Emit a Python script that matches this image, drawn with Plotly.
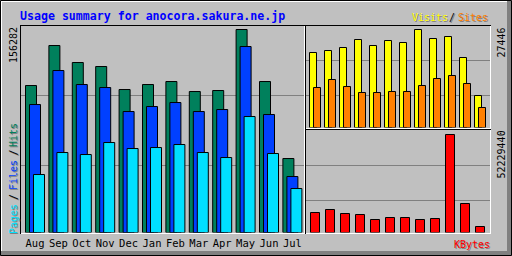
import plotly.graph_objects as go

# ---------------- data ----------------
months = ["Aug", "Sep", "Oct", "Nov", "Dec", "Jan", "Feb", "Mar", "Apr", "May", "Jun", "Jul"]
hits = [113146, 143942, 130854, 127774, 110067, 113916, 116225, 108527, 109297, 156282, 116225, 56946]
files = [98518, 124694, 113916, 111606, 93130, 96979, 100058, 93130, 94669, 143171, 90820, 43089]
pages = [44628, 61565, 60026, 69264, 64645, 65415, 67725, 61565, 57716, 89280, 60796, 33851]
visits = [21005, 21565, 22405, 24645, 22965, 24365, 23805, 27446, 24925, 25485, 19604, 8962]
sites = [11202, 13443, 11482, 9802, 9802, 10082, 10082, 11763, 13723, 14563, 12323, 5601]
kbytes = [10659000, 12258000, 10126000, 9593000, 6928000, 7994000, 7994000, 6928000, 7461000,
          52229440, 15456000, 3198000]
title_text = "Usage summary for anocora.sakura.ne.jp"
max_main_label = "156282"
max_visits_label = "27446"
max_kbytes_label = "52229440"

# ---------------- styling ----------------
W, H = 512, 256
GREY = "#C0C0C0"
DKGREY = "#808080"
C_HIT, C_FILE, C_PAGE = "#00805C", "#0040FF", "#00E0FF"
C_VISIT, C_SITE, C_KB = "#FFFF00", "#FF8000", "#FF0000"
MONO = "DejaVu Sans Mono"
SHADOW_H = "1px 1px 0px #808080"      # horizontal text shadow (down-right)
SHADOW_V = "-1px 1px 0px #808080"     # same screen offset for text rotated -90


def fx(p):
    return p / W


def fy(p):
    return 1 - p / H


# main panel geometry (pixels)
M_C0, M_STEP = 35.0, 23.4
M_X0, M_X1 = 21, 304
M_ZERO, M_TOP = 232.5, 26
M_SCALE = 203 / max(hits)              # px per unit
# right panels
R_C0, R_STEP = 315.0, 15.0
R_X0, R_X1 = 306, 490
V_ZERO, V_TOP = 127.5, 26
V_SCALE = 98 / max(visits)
K_ZERO, K_TOP = 232.5, 130
K_SCALE = 98 / max(kbytes)

idx = list(range(len(months)))
fig = go.Figure()


def bar(y, color, w_px, off_px, step, xa, ya):
    return go.Bar(x=idx, y=y, width=w_px / step, offset=off_px / step,
                  marker=dict(color=color, line=dict(color="black", width=1)),
                  opacity=1, xaxis=xa, yaxis=ya, showlegend=False, hoverinfo="skip")


fig.add_trace(bar(hits, C_HIT, 11, -9.5, M_STEP, "x", "y"))
fig.add_trace(bar(files, C_FILE, 11, -5.5, M_STEP, "x", "y"))
fig.add_trace(bar(pages, C_PAGE, 11, -1.5, M_STEP, "x", "y"))
fig.add_trace(bar(visits, C_VISIT, 7, -5.5, R_STEP, "x2", "y2"))
fig.add_trace(bar(sites, C_SITE, 7, -1.5, R_STEP, "x2", "y2"))
fig.add_trace(bar(kbytes, C_KB, 9, -4.5, R_STEP, "x3", "y3"))

hidden = dict(visible=False, fixedrange=True)

shapes = []


def rect(x0, y0, x1, y1, color, layer="above"):
    shapes.append(dict(type="rect", xref="paper", yref="paper", x0=fx(x0), x1=fx(x1),
                       y0=fy(y0), y1=fy(y1), fillcolor=color, line=dict(width=0), layer=layer))


def line(x0, y0, x1, y1, color, layer="above"):
    shapes.append(dict(type="line", xref="paper", yref="paper", x0=fx(x0), x1=fx(x1),
                       y0=fy(y0), y1=fy(y1), line=dict(color=color, width=1), layer=layer))


# outer bevel
rect(1, 251, 511, 255, DKGREY)
rect(507, 1, 511, 255, DKGREY)
line(1, 1.5, 507, 1.5, "white")
line(1.5, 1, 1.5, 251, "white")
shapes.append(dict(type="rect", xref="paper", yref="paper", x0=fx(0.5), x1=fx(511.5),
                   y0=fy(0.5), y1=fy(255.5), line=dict(color="black", width=1), layer="above"))

# grid lines
for yy in (95.5, 165.5):
    line(21, yy, 304, yy, DKGREY, "below")
for yy in (60.5, 95.5):
    line(306, yy, 490, yy, DKGREY, "below")
for yy in (165.5, 200.5):
    line(306, yy, 490, yy, DKGREY, "below")

# panel borders: main
line(20.5, 25, 20.5, 234, "black")
line(20, 25.5, 305, 25.5, "black")
line(304.5, 26, 304.5, 234, "white")
line(21, 233.5, 305, 233.5, "white")
# top-right
line(305.5, 25, 305.5, 129, "black")
line(305, 25.5, 491, 25.5, "black")
line(490.5, 26, 490.5, 129, "white")
line(306, 128.5, 491, 128.5, "white")
# bottom-right
line(305.5, 129, 305.5, 234, "black")
line(305, 129.5, 491, 129.5, "black")
line(490.5, 130, 490.5, 234, "white")
line(306, 233.5, 491, 233.5, "white")

annotations = []


def ann(text, x, y, color="black", size=10, xanchor="center", angle=0, weight="normal",
        shadow="none"):
    annotations.append(dict(text=text, x=fx(x), y=fy(y), xref="paper", yref="paper",
                            xanchor=xanchor, yanchor="middle", showarrow=False,
                            textangle=angle, borderpad=0, borderwidth=0,
                            font=dict(family=MONO, size=size, color=color, weight=weight,
                                      shadow=shadow)))


ann(title_text, 20, 15.5, "#0000FF", 11.6, "left", weight="bold")
ann("Visits", 412, 17, C_VISIT, 10, "left", shadow=SHADOW_H)
ann("/", 452, 17, "black", 10, shadow=SHADOW_H)
ann("Sites", 458, 17, C_SITE, 10, "left", shadow=SHADOW_H)
ann("KBytes", 490, 244, C_KB, 10, "right", shadow=SHADOW_H)

ann(max_main_label, 13, 45, "black", 10, angle=-90)
ann(max_visits_label, 500.5, 43, "black", 10, angle=-90)
ann(max_kbytes_label, 500.5, 155, "black", 10, angle=-90)

ann("Pages", 13, 219, C_PAGE, 10, angle=-90, shadow=SHADOW_V)
ann("/", 13, 197, "black", 10, angle=-90, shadow=SHADOW_V)
ann("Files", 13, 175, C_FILE, 10, angle=-90, shadow=SHADOW_V)
ann("/", 13, 152.5, "black", 10, angle=-90, shadow=SHADOW_V)
ann("Hits", 13, 135, C_HIT, 10, angle=-90, shadow=SHADOW_V)

fig.update_layout(
    width=W, height=H, margin=dict(l=0, r=0, t=0, b=0),
    paper_bgcolor=GREY, plot_bgcolor="rgba(0,0,0,0)",
    barmode="overlay", showlegend=False,
    xaxis=dict(domain=[fx(M_X0), fx(M_X1)],
               range=[(M_X0 - M_C0) / M_STEP, (M_X1 - M_C0) / M_STEP],
               tickmode="array", tickvals=idx, ticktext=months, ticks="",
               ticklabelstandoff=3,
               showgrid=False, zeroline=False, showline=False, fixedrange=True,
               tickfont=dict(family=MONO, size=10.5, color="black"), anchor="y"),
    yaxis=dict(domain=[fy(M_ZERO), fy(M_TOP)], range=[0, (M_ZERO - M_TOP) / M_SCALE],
               anchor="x", **hidden),
    xaxis2=dict(domain=[fx(R_X0), fx(R_X1)],
                range=[(R_X0 - R_C0) / R_STEP, (R_X1 - R_C0) / R_STEP], anchor="y2", **hidden),
    yaxis2=dict(domain=[fy(V_ZERO), fy(V_TOP)], range=[0, (V_ZERO - V_TOP) / V_SCALE],
                anchor="x2", **hidden),
    xaxis3=dict(domain=[fx(R_X0), fx(R_X1)],
                range=[(R_X0 - R_C0) / R_STEP, (R_X1 - R_C0) / R_STEP], anchor="y3", **hidden),
    yaxis3=dict(domain=[fy(K_ZERO), fy(K_TOP)], range=[0, (K_ZERO - K_TOP) / K_SCALE],
                anchor="x3", **hidden),
    shapes=shapes, annotations=annotations,
)

fig.write_html("out.html", config=dict(displayModeBar=False, staticPlot=True))
